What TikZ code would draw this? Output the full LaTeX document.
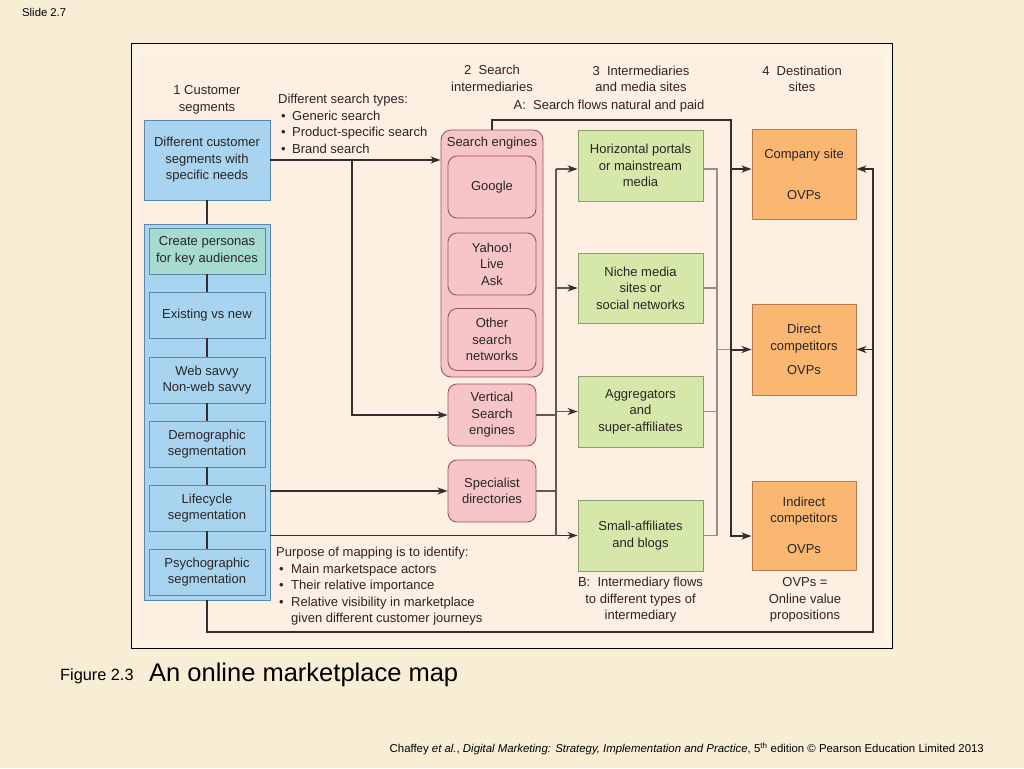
\documentclass[tikz,border=0pt]{standalone}
\usepackage{fontspec}
\setmainfont{Liberation Sans}
\usetikzlibrary{arrows.meta,calc}
\definecolor{slidebg}{HTML}{F8EED6}
\definecolor{framebg}{HTML}{FBF4E3}
\definecolor{panelbg}{HTML}{FDF0E2}
\definecolor{bluefill}{HTML}{A9D4F0}
\definecolor{bluebd}{HTML}{5A87AA}
\definecolor{tealfill}{HTML}{A6DBCF}
\definecolor{pinkfill}{HTML}{F7C4C8}
\definecolor{pinkbd}{HTML}{94585E}
\definecolor{greenfill}{HTML}{D6E7AA}
\definecolor{greenbd}{HTML}{8A9D70}
\definecolor{orangefill}{HTML}{F9B772}
\definecolor{orangebd}{HTML}{B57B48}
\definecolor{ink}{HTML}{2A2525}
\definecolor{linedark}{HTML}{352D2D}
\definecolor{linemid}{HTML}{625955}
\definecolor{linelight}{HTML}{9A8F89}
\begin{document}
\begin{tikzpicture}[x=1pt,y=-1pt,
  every node/.style={text=ink, font=\fontsize{13}{16.5}\selectfont, inner sep=0pt, align=center},
  bluebox/.style={draw=bluebd, fill=bluefill, line width=0.9pt},
  tealbox/.style={bluebox, fill=tealfill},
  pinkbox/.style={draw=pinkbd, fill=pinkfill, line width=0.9pt, rounded corners=9pt},
  greenbox/.style={draw=greenbd, fill=greenfill, line width=0.9pt},
  orangebox/.style={draw=orangebd, fill=orangefill, line width=0.9pt},
  segbox/.style={minimum width=116pt, minimum height=46pt},
  sebox/.style={pinkbox, minimum width=88pt, minimum height=62pt},
  grbox/.style={greenbox, minimum width=125pt, minimum height=71pt},
  orbox/.style={orangebox, minimum width=104pt, minimum height=90pt},
  mainln/.style={draw=linedark, line width=1.3pt},
  heavyln/.style={draw=linedark, line width=2pt},
  midln/.style={draw=linemid, line width=1.2pt},
  lightln/.style={draw=linelight, line width=1.2pt},
  arr/.style={-{Stealth[length=10pt,width=7pt,inset=3pt,color=linedark]}}]
\useasboundingbox (0,0) rectangle (1024,768);
\fill[slidebg] (0,0) rectangle (1024,768);
\draw[fill=framebg, draw=black, line width=1pt] (131.5,44) rectangle (892.5,648.5);
\fill[panelbg] (139,53) rectangle (883,640.5);

% headers and notes
\node (h1) at (207,100) {1 Customer\\segments};
\node (h2) at (492,78.5) {2\ \ Search\\intermediaries};
\node (h3) at (641,79) {3\ \ Intermediaries\\and media sites};
\node (h4) at (802,79) {4\ \ Destination\\sites};
\node (la) at (609,106) {A:\ \ Search flows natural and paid};
\node[anchor=north west, align=left] (types) at (278,94) {Different search types:\\
\hspace*{3pt}\makebox[11pt][l]{\textbullet}Generic search\\
\hspace*{3pt}\makebox[11pt][l]{\textbullet}Product-specific search\\
\hspace*{3pt}\makebox[11pt][l]{\textbullet}Brand search};
\node[anchor=north west, align=left] (purpose) at (276,547) {Purpose of mapping is to identify:\\
\hspace*{3pt}\makebox[12pt][l]{\textbullet}Main marketspace actors\\
\hspace*{3pt}\makebox[12pt][l]{\textbullet}Their relative importance\\
\hspace*{3pt}\makebox[12pt][l]{\textbullet}Relative visibility in marketplace\\
\hspace*{15pt}given different customer journeys};
\node (lb) at (640.5,600) {B:\ \ Intermediary flows\\to different types of\\intermediary};
\node (ovp) at (805,600) {OVPs =\\Online value\\propositions};

% column 1
\node[bluebox, minimum width=126pt, minimum height=80pt] (cust) at (207,160) {Different customer\\segments with\\specific needs};
\node[bluebox, minimum width=126pt, minimum height=376pt] (bcont) at (207,412) {};
\node[tealbox, segbox] (persona) at (207,251) {Create personas\\for key audiences};
\node[bluebox, segbox] (exist) at (207,315) {Existing vs new};
\node[bluebox, segbox] (web) at (207,380) {Web savvy\\Non-web savvy};
\node[bluebox, segbox] (demo) at (207,444) {Demographic\\segmentation};
\node[bluebox, segbox] (life) at (207,508) {Lifecycle\\segmentation};
\node[bluebox, segbox] (psycho) at (207,572) {Psychographic\\segmentation};

% column 2
\node[pinkbox, rounded corners=10pt, minimum width=102pt, minimum height=247pt] (secont) at (492,253.5) {};
\node (selabel) at (492,143) {Search engines};
\node[sebox] (google) at (492,187) {Google};
\node[sebox] (yahoo) at (492,264) {Yahoo!\\Live\\Ask};
\node[sebox] (other) at (492,339.5) {Other\\search\\networks};
\node[sebox] (vert) at (492,415) {Vertical\\Search\\engines};
\node[sebox] (spec) at (492,491) {Specialist\\directories};

% column 3
\node[grbox] (horiz) at (640.5,165.5) {Horizontal portals\\or mainstream\\media};
\node[grbox, minimum height=70pt] (niche) at (640.5,288) {Niche media\\sites or\\social networks};
\node[grbox] (aggr) at (640.5,411.5) {Aggregators\\and\\super-affiliates};
\node[grbox] (small) at (640.5,535.5) {Small-affiliates\\and blogs};

% column 4
\node[orbox] (company) at (804,174) {Company site\\[24.5pt]OVPs};
\node[orbox, minimum height=91pt] (direct) at (804,349.5) {Direct\\competitors\\[7.5pt]OVPs};
\node[orbox, minimum height=89pt] (indirect) at (804,525.5) {Indirect\\competitors\\[14.5pt]OVPs};

% coordinates
\coordinate (lvlA) at (0,169);
\coordinate (brA) at (352,160);
\coordinate (busL) at (556,0);
\coordinate (busR) at (717,0);
\coordinate (Abus) at (731,120);
\coordinate (Abot) at (731,536);
\coordinate (botL) at (207,632);
\coordinate (botR) at (873,632);

% connectors column 1
\draw[mainln] (cust.south) -- (bcont.north);
\draw[mainln] (persona.south) -- (exist.north);
\draw[mainln] (exist.south) -- (web.north);
\draw[mainln] (web.south) -- (demo.north);
\draw[mainln] (demo.south) -- (life.north);
\draw[mainln] (life.south) -- (psycho.north);
\draw[mainln, arr] (cust.east) -- (secont.west |- cust.east);
\draw[mainln, arr] (brA) |- (vert.west);
\draw[mainln, arr] (bcont.east |- spec.west) -- (spec.west);
\draw[mainln, arr] (bcont.east |- small.west) -- (small.west);

% left bus
\draw[midln] (vert.east) -- (busL |- vert.east);
\draw[midln] (spec.east) -- (busL |- spec.east);
\draw[midln] (busL |- lvlA) -- (busL |- small.west);
\draw[midln, arr] (busL |- lvlA) -- (horiz.west |- lvlA);
\draw[midln, arr] (busL |- niche.west) -- (niche.west);
\draw[midln, arr] (busL |- aggr.west) -- (aggr.west);

% right bus
\draw[lightln] (horiz.east |- lvlA) -- (busR |- lvlA) -- (busR |- small.east) -- (small.east);
\draw[lightln] (niche.east) -- (busR |- niche.east);
\draw[lightln] (aggr.east) -- (busR |- aggr.east);
\draw[lightln] (busR |- direct.west) -- (Abus |- direct.west);

% search flows A
\draw[heavyln, arr] (secont.north) |- (Abus) -- (Abot) -- (indirect.west |- Abot);
\draw[heavyln, arr] (Abus |- lvlA) -- (company.west |- lvlA);
\draw[heavyln, arr] (Abus |- direct.west) -- (direct.west);

% bottom return
\draw[mainln, arr] (bcont.south) -- (botL) -- (botR) -- (botR |- lvlA) -- (company.east |- lvlA);
\draw[mainln, arr] (botR |- direct.east) -- (direct.east);

% slide texts
\node[anchor=base west, font=\fontsize{11.3}{13}\selectfont, text=black] (slide) at (22,16.5) {Slide 2.7};
\node[anchor=base west, font=\fontsize{16.3}{18}\selectfont, text=black] (fig) at (60,680) {Figure 2.3};
\node[anchor=base west, font=\fontsize{25.5}{28}\selectfont, text=black] (title) at (149,681) {An online marketplace map};
\node[anchor=base east, font=\fontsize{11.4}{13}\selectfont, text=black] (foot) at (984,752) {Chaffey \textit{et al.}, \textit{Digital Marketing: Strategy, Implementation and Practice}, 5\textsuperscript{th} edition © Pearson Education Limited 2013};
\end{tikzpicture}
\end{document}
